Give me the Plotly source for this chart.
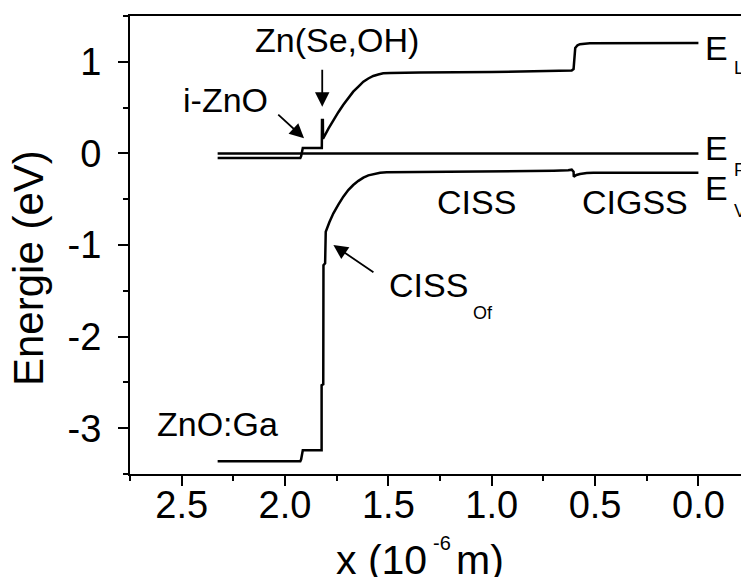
import plotly.graph_objects as go

FONT = "Liberation Sans, Arial, Helvetica, sans-serif"

# Depth through the cell stack (10^-6 m): 0 = back of the CIGSS absorber, 2.33 = ZnO:Ga window
fermi_x = [2.326, 0.0]
fermi_e = [0.0, 0.0]

# Conduction band edge E_L (eV)
cond_x = [2.326, 1.926, 1.922, 1.918, 1.914, 1.822, 1.821, 1.817, 1.816,
          1.790, 1.766, 1.742, 1.718, 1.694, 1.670, 1.645, 1.621, 1.597,
          1.573, 1.549, 1.525, 1.490, 1.460, 1.347, 1.000, 0.700, 0.620,
          0.613, 0.604, 0.601, 0.600, 0.596, 0.585, 0.573, 0.550, 0.525, 0.0]
cond_e = [-0.05, -0.05, -0.03, 0.04, 0.06, 0.06, 0.365, 0.365, 0.16,
          0.27, 0.365, 0.45, 0.53, 0.605, 0.674, 0.73, 0.783, 0.818,
          0.845, 0.862, 0.874, 0.879, 0.881, 0.883, 0.888, 0.895, 0.90,
          0.905, 0.92, 1.0, 1.11, 1.15, 1.18, 1.192, 1.198, 1.202, 1.205]

# Valence band edge E_V (eV)
val_x = [2.326, 1.926, 1.922, 1.918, 1.914, 1.823, 1.823, 1.815, 1.814,
         1.806, 1.805, 1.803, 1.785, 1.766, 1.742, 1.718, 1.694, 1.670,
         1.645, 1.621, 1.597, 1.573, 1.540, 1.508, 1.347, 1.000, 0.700,
         0.630, 0.613, 0.604, 0.603, 0.590, 0.573, 0.540, 0.508, 0.0]
val_e = [-3.36, -3.36, -3.34, -3.26, -3.24, -3.24, -2.53, -2.52, -1.22,
         -1.20, -0.87, -0.855, -0.75, -0.654, -0.56, -0.472, -0.40, -0.345,
         -0.30, -0.265, -0.24, -0.225, -0.212, -0.207, -0.205, -0.20, -0.19,
         -0.185, -0.178, -0.20, -0.254, -0.235, -0.225, -0.215, -0.21, -0.21]

x_range = [2.75, -0.206]
x_ticks = [2.5, 2.0, 1.5, 1.0, 0.5, 0.0]
x_tick_labels = ["2.5", "2.0", "1.5", "1.0", "0.5", "0.0"]
x_minor = [2.75, 2.25, 1.75, 1.25, 0.75, 0.25]
y_ticks = [1, 0, -1, -2, -3]
y_tick_labels = ["1", "0", "-1", "-2", "-3"]
y_minor = [1.5, 0.5, -0.5, -1.5, -2.5, -3.5]

# Layer labels: text, x, E
layer_labels = [
    ("Zn(Se,OH)", 1.748, 1.238),
    ("i-ZnO", 2.290, 0.583),
    ("CISS", 1.073, -0.527),
    ("CIGSS", 0.307, -0.527),
    ("ZnO:Ga", 2.327, -2.954),
    ("CISS", 1.307, -1.437),
]
# Arrows: (tail x, tail E, head x, head E)
arrows = [
    (1.820, 0.93, 1.820, 0.51),
    (2.040, 0.438, 1.908, 0.165),
    (1.565, -1.309, 1.766, -1.0),
]
# Band names at the right edge: main letter, subscript, E of letter, E of subscript
band_names = [
    ("E", "L", 1.156, 0.929),
    ("E", "F", 0.056, -0.181),
    ("E", "V", -0.381, -0.634),
]

line_style = dict(color="black", width=2.5)
fig = go.Figure()
for xs, es in [(fermi_x, fermi_e), (cond_x, cond_e), (val_x, val_e)]:
    fig.add_trace(go.Scatter(x=xs, y=es, mode="lines", line=line_style,
                             hoverinfo="skip", showlegend=False))
# invisible trace carrying the label axis
fig.add_trace(go.Scatter(x=fermi_x, y=fermi_e, xaxis="x2", mode="lines",
                         line=dict(width=0), hoverinfo="skip", showlegend=False))

ann = []
for text, xv, ev in layer_labels:
    ann.append(dict(text=text, x=xv, y=ev, xref="x", yref="y", showarrow=False,
                    xanchor="center", yanchor="middle",
                    font=dict(family=FONT, size=34, color="black")))
ann.append(dict(text="Of", x=1.041, y=-1.739, xref="x", yref="y", showarrow=False,
                xanchor="center", yanchor="middle",
                font=dict(family=FONT, size=18, color="black")))
for x0, y0, x1, y1 in arrows:
    ann.append(dict(text="", x=x1, y=y1, ax=x0, ay=y0, xref="x", yref="y",
                    axref="x", ayref="y", showarrow=True, arrowhead=2,
                    arrowsize=1.6, arrowwidth=1.8, arrowcolor="black"))
for main, sub, ev, es in band_names:
    ann.append(dict(text=main, x=-0.088, y=ev, xref="x", yref="y", showarrow=False,
                    xanchor="center", yanchor="middle",
                    font=dict(family=FONT, size=34, color="black")))
    ann.append(dict(text=sub, x=-0.161, y=es, xref="x", yref="y", showarrow=False,
                    xanchor="left", yanchor="middle",
                    font=dict(family=FONT, size=18, color="black")))

# Axis titles
ann.append(dict(text="Energie (eV)", x=(28 - 130) / 611, y=(474 - 268) / 458,
                xref="paper", yref="paper", showarrow=False, textangle=-90,
                xanchor="center", yanchor="middle",
                font=dict(family=FONT, size=42, color="black")))
ann.append(dict(text="x (10", x=(428 - 130) / 611, y=-86 / 458,
                xref="paper", yref="paper", showarrow=False,
                xanchor="right", yanchor="middle", borderpad=0,
                font=dict(family=FONT, size=41, color="black")))
ann.append(dict(text="-6", x=(432 - 130) / 611, y=-(543 - 474) / 458,
                xref="paper", yref="paper", showarrow=False,
                xanchor="left", yanchor="middle", borderpad=0,
                font=dict(family=FONT, size=20, color="black")))
ann.append(dict(text="m)", x=(455 - 130) / 611, y=-86 / 458,
                xref="paper", yref="paper", showarrow=False,
                xanchor="left", yanchor="middle", borderpad=0,
                font=dict(family=FONT, size=41, color="black")))

axis_common = dict(showgrid=False, zeroline=False, showline=True, linecolor="black",
                   linewidth=2, ticks="outside", ticklen=10, tickwidth=2,
                   tickcolor="black", tickmode="array",
                   tickfont=dict(family=FONT, size=38, color="black"))

fig.update_layout(
    width=741, height=577,
    margin=dict(l=130, r=0, t=16, b=103),
    paper_bgcolor="white", plot_bgcolor="white",
    annotations=ann,
    xaxis=dict(range=x_range, tickvals=x_ticks, ticktext=x_tick_labels,
               mirror=True, showticklabels=False,
               minor=dict(tickmode="array", tickvals=x_minor, ticks="outside",
                          ticklen=5, tickwidth=2, tickcolor="black"),
               **axis_common),
    # tick labels for the x axis, set closer to the axis line
    xaxis2=dict(range=x_range, overlaying="x", anchor="y", side="bottom",
                showgrid=False, zeroline=False, showline=False, ticks="",
                tickmode="array", tickvals=x_ticks, ticktext=x_tick_labels,
                ticklabelstandoff=5,
                tickfont=dict(family=FONT, size=38, color="black")),
    yaxis=dict(range=[-3.5, 1.5], tickvals=y_ticks, ticktext=y_tick_labels,
               mirror=False, ticklabelstandoff=9,
               minor=dict(tickmode="array", tickvals=y_minor, ticks="outside",
                          ticklen=5, tickwidth=2, tickcolor="black"),
               **axis_common),
)

fig.write_html("out.html")
